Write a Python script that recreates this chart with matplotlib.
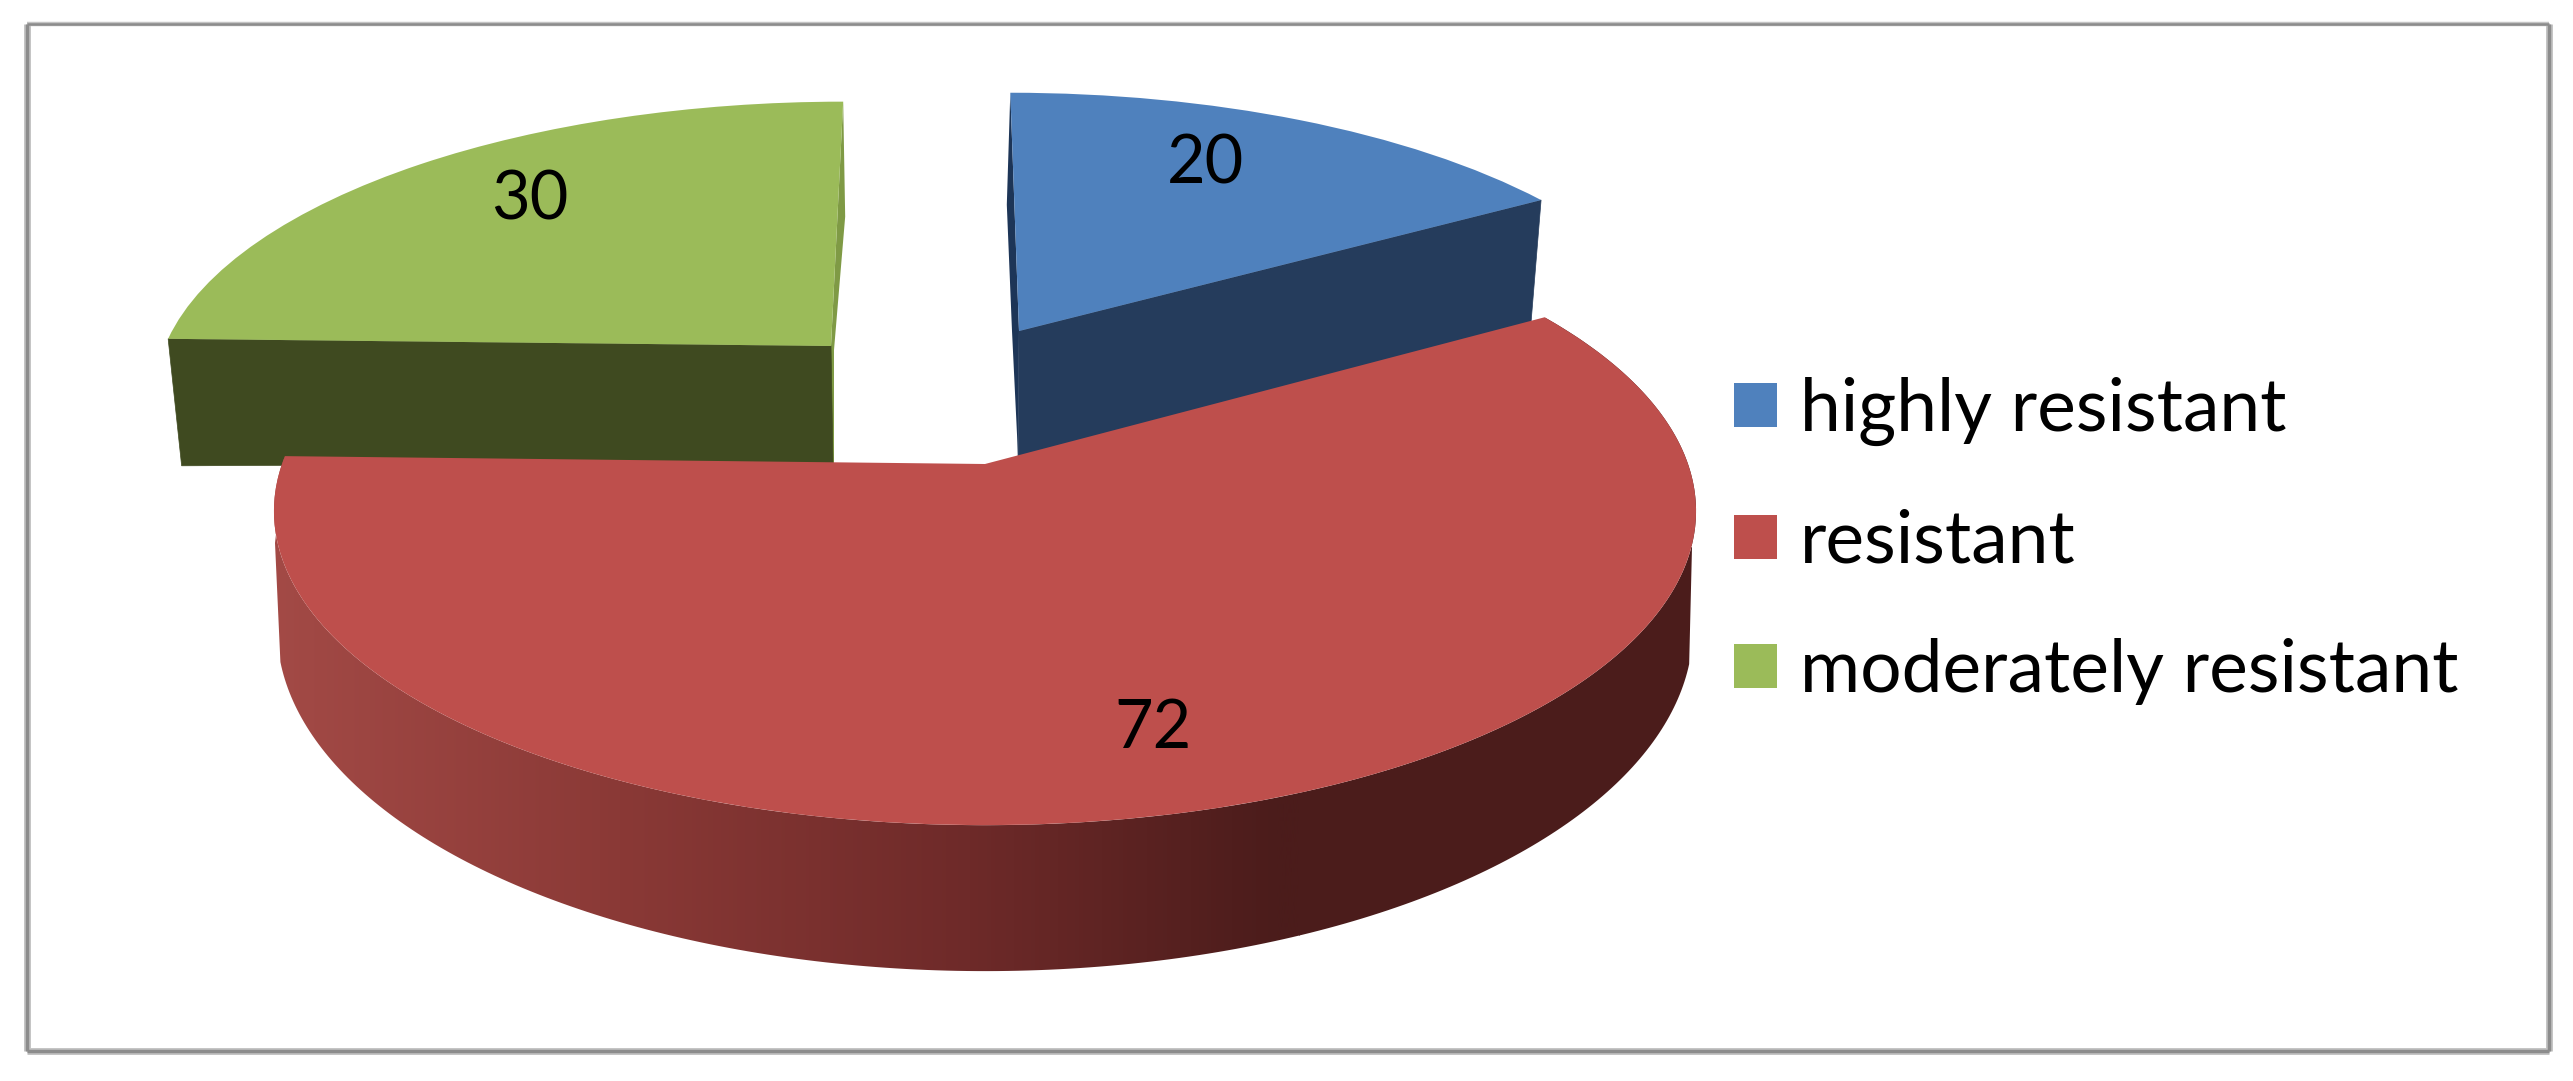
import numpy as np
import matplotlib
matplotlib.use("Agg")
import matplotlib.pyplot as plt
from matplotlib.colors import LinearSegmentedColormap
from matplotlib.patches import Polygon
from matplotlib.transforms import Transform

# ---- data ----
categories = ["highly resistant", "resistant", "moderately resistant"]
values = [20, 72, 30]
top_colors = ["#4f81bd", "#be4f4c", "#9bbb59"]
side_colors = ["#253c5c", "#4b1c1b", "#3f4a20"]
edge_colors = ["#1d3557", "#4b1c1b", "#7f9a45"]
value_label_xy = [(1205, 165), (1153, 729), (530, 200)]

W, H = 2573, 1081
K = 0.15  # perspective strength of the 3-D pie
# placement of each exploded slice: apex x, apex y, half width, half height, skew
geometry = [(1019, 331, 662, 274, -10), (985, 464, 703, 307, 0), (831, 346, 666, 281, 14)]
# lower rim of the red slice and where its outline leaves the top surface
red_bottom = (985, 577, 700, 335, 0)
wall_left_start = (275, 543)
wall_right_start = (1692, 547)
# radial side faces: (apex dx, apex depth), (rim dx, rim depth)
face_depths = {0: ((-1, 130), (-10.5, 128)), 2: ((2, 117), (13.5, 127))}


class SliceProjection(Transform):
    input_dims = 2
    output_dims = 2
    is_separable = False
    has_inverse = False

    def __init__(self, ax0, ay0, a, b, skew):
        super().__init__()
        self.p = (ax0, ay0, a, b, skew)

    def transform_non_affine(self, xy):
        ax0, ay0, a, b, skew = self.p
        xy = np.asarray(xy, dtype=float)
        x, y = xy[:, 0], xy[:, 1]
        w = 1 + K * y
        return np.column_stack((ax0 + (a * x + skew * y) / w, ay0 - b * y / w))


def rim(params, angles_deg):
    t = np.radians(angles_deg)
    return SliceProjection(*params).transform_non_affine(np.column_stack((np.cos(t), np.sin(t))))


plt.rcParams["font.family"] = ["Lato", "DejaVu Sans"]
fig = plt.figure(figsize=(W / 100, H / 100), dpi=100, facecolor="white")
ax = fig.add_axes([0, 0, 1, 1])

wedges, _ = ax.pie(values, colors=top_colors, startangle=90, counterclock=False)
ax.set_aspect("auto")
ax.set_xlim(0, W)
ax.set_ylim(H, 0)
ax.axis("off")

# outer frame: the top rule is thinner than the other three
frame = [((27, 2549), (24, 24), 3.2, 1.8), ((27, 2549), (1051, 1051), 5.0, 2.5),
         ((27, 27), (24, 1051), 5.0, 2.5), ((2549, 2549), (24, 1051), 5.0, 2.5)]
for xs, ys, wide, narrow in frame:
    ax.plot(xs, ys, color="#c4c4c4", lw=wide, solid_capstyle="butt", zorder=0.5)
    ax.plot(xs, ys, color="#8c8c8c", lw=narrow, solid_capstyle="butt", zorder=0.6)

for i, wedge in enumerate(wedges):
    params = geometry[i]
    wedge.set_transform(SliceProjection(*params) + ax.transData)
    wedge.set_linewidth(0)
    wedge.set_zorder(5 if i == 1 else 3)

# radial side faces (blue and green slices)
for i, (rim_angle, back_angle) in {0: (wedges[0].theta1, wedges[0].theta2),
                                   2: (wedges[2].theta2, wedges[2].theta1)}.items():
    params = geometry[i]
    apex = np.array(params[:2], dtype=float)
    rim_pt = rim(params, [rim_angle])[0]
    back_pt = rim(params, [back_angle])[0]
    (adx, ady), (rdx, rdy) = face_depths[i]
    ax.add_patch(Polygon([apex, rim_pt, rim_pt + (rdx, rdy), apex + (adx, ady)],
                         closed=True, fc=side_colors[i], ec=side_colors[i], lw=0.5, zorder=2.5))
    # thin face seen along the back edge of the slice
    if i == 0:
        sliver = [back_pt, back_pt + (-3.5, 112), apex + (-7, 0), apex + (-1, 124), apex]
    else:
        sliver = [back_pt, back_pt + (2, 115), apex + (3, 4), apex + (3, 117), apex + (0, 117), apex]
    ax.add_patch(Polygon(sliver, closed=True, fc=edge_colors[i], ec="none", zorder=2.2))

# curved wall of the red slice, shaded from left to right
angles = np.linspace(wedges[1].theta1, wedges[1].theta2, 300)
lower = rim(red_bottom, angles)[::-1]
lower = lower[lower[:, 1] >= 660]
wall = np.vstack((rim(geometry[1], angles), [wall_right_start], lower, [wall_left_start]))
wall_patch = Polygon(wall, closed=True, fc="none", ec="none", transform=ax.transData)
ax.add_patch(wall_patch)
cmap = LinearSegmentedColormap.from_list(
    "redwall", [(0, "#a34a46"), (0.34, "#8a3936"), (0.68, "#6e2a29"), (0.98, "#4b1c1b"), (1, "#4b1c1b")])
grad = np.linspace(0, 1, 512).reshape(1, -1)
img = ax.imshow(grad, extent=(270, 1300, H, 0), cmap=cmap, aspect="auto", zorder=4)
img2 = ax.imshow(np.ones((2, 2)), extent=(1299, 1700, H, 0), cmap=cmap, vmin=0, vmax=1, aspect="auto", zorder=4)
img.set_clip_path(wall_patch)
img2.set_clip_path(wall_patch)
ax.set_xlim(0, W)
ax.set_ylim(H, 0)

# value labels
for v, (x, y) in zip(values, value_label_xy):
    ax.text(x, y, str(v), ha="center", va="center", fontsize=48, color="black", zorder=6)

# legend
fs = 52.7
em = fs * 100 / 72
leg = ax.legend(wedges, categories, loc="upper left", bbox_to_anchor=(1734 / W, 1 - 377 / H),
                bbox_transform=fig.transFigure, frameon=False, fontsize=fs, borderpad=0, borderaxespad=0,
                handlelength=43 / em, handleheight=40 / em, handletextpad=23 / em,
                labelspacing=0.855)
leg.set_zorder(6)

fig.savefig("out.png", dpi=100, facecolor="white")
